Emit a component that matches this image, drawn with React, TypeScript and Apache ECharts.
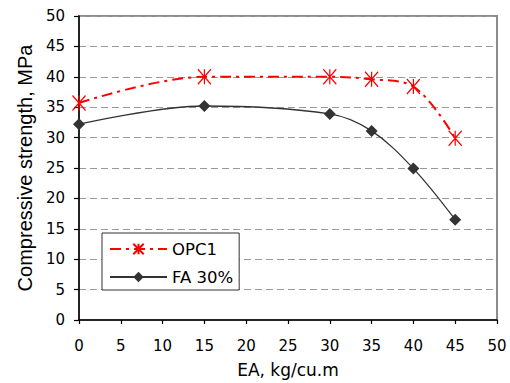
import React, { useEffect, useRef } from "react";
import * as echarts from "echarts";

// EA dosage (kg/cu.m) and compressive strength (MPa) for the two mixes
const eaDose = [0, 15, 30, 35, 40, 45];
const opc1Strength = [35.7, 40.0, 40.0, 39.6, 38.4, 29.9];
const fa30Strength = [32.2, 35.2, 33.9, 31.1, 24.9, 16.5];
const seriesNames = ["OPC1", "FA 30%"];

const xTitle = "EA, kg/cu.m";
const yTitle = "Compressive strength, MPa";

// six-armed asterisk marker: an X with a vertical bar
const starSymbol = "path://M0,0L12,14M12,0L0,14M6,0L6,14";

export default function App() {
  const ref = useRef<HTMLDivElement>(null);

  useEffect(() => {
    if (!ref.current) return;
    const chart = echarts.init(ref.current, undefined, { renderer: "svg" });
    const font = "DejaVu Sans";
    chart.setOption({
      animation: false,
      backgroundColor: "#ffffff",
      grid: {
        left: 79,
        right: 13,
        top: 16,
        bottom: 60,
        show: true,
        borderColor: "#8c8c8c",
        borderWidth: 2,
        backgroundColor: "#ffffff",
      },
      legend: {
        orient: "vertical",
        left: 102,
        top: 233,
        padding: [7, 6, 4, 7],
        itemWidth: 57,
        itemHeight: 13,
        itemGap: 10,
        backgroundColor: "#ffffff",
        borderColor: "#333333",
        borderWidth: 1,
        borderRadius: 0,
        textStyle: { fontFamily: font, fontSize: 16.5, color: "#000000", lineHeight: 18 },
        data: seriesNames,
      },
      xAxis: {
        type: "value",
        min: 0,
        max: 50,
        interval: 5,
        name: xTitle,
        nameLocation: "middle",
        nameGap: 41,
        nameTextStyle: { fontFamily: font, fontSize: 17, color: "#000000" },
        axisLine: { show: true, lineStyle: { color: "#000000", width: 1.5 } },
        axisTick: { show: true, length: 4, lineStyle: { color: "#000000", width: 1.2 } },
        axisLabel: { fontFamily: font, fontSize: 15, color: "#000000", margin: 18 },
        splitLine: { show: false },
      },
      yAxis: {
        type: "value",
        min: 0,
        max: 50,
        interval: 5,
        name: yTitle,
        nameLocation: "middle",
        nameGap: 44,
        nameTextStyle: { fontFamily: "Liberation Sans", fontSize: 20, color: "#000000" },
        axisLine: { show: true, lineStyle: { color: "#000000", width: 1.5 } },
        axisTick: { show: true, length: 5, lineStyle: { color: "#000000", width: 1.2 } },
        axisLabel: { fontFamily: font, fontSize: 15, color: "#000000", margin: 14 },
        splitLine: {
          show: true,
          lineStyle: { color: "#9a9a9a", width: 1, type: [7, 4] },
        },
      },
      series: [
        {
          name: seriesNames[0],
          type: "line",
          smooth: 0.35,
          data: eaDose.map((x, i) => [x, opc1Strength[i]]),
          symbol: starSymbol,
          symbolSize: [13, 15],
          itemStyle: { color: "rgba(0,0,0,0)", borderColor: "#ff0000", borderWidth: 1.3 },
          lineStyle: { color: "#ff0000", width: 2, type: [11, 5, 3, 5] },
          z: 3,
        },
        {
          name: seriesNames[1],
          type: "line",
          smooth: 0.35,
          data: eaDose.map((x, i) => [x, fa30Strength[i]]),
          symbol: "diamond",
          symbolSize: [12, 12],
          itemStyle: { color: "#333333" },
          lineStyle: { color: "#333333", width: 1.3 },
          z: 2,
        },
      ],
    });
    return () => chart.dispose();
  }, []);

  return (
    <div
      ref={ref}
      style={{ position: "fixed", left: 0, top: 0, width: 510, height: 383, background: "#ffffff" }}
    />
  );
}
